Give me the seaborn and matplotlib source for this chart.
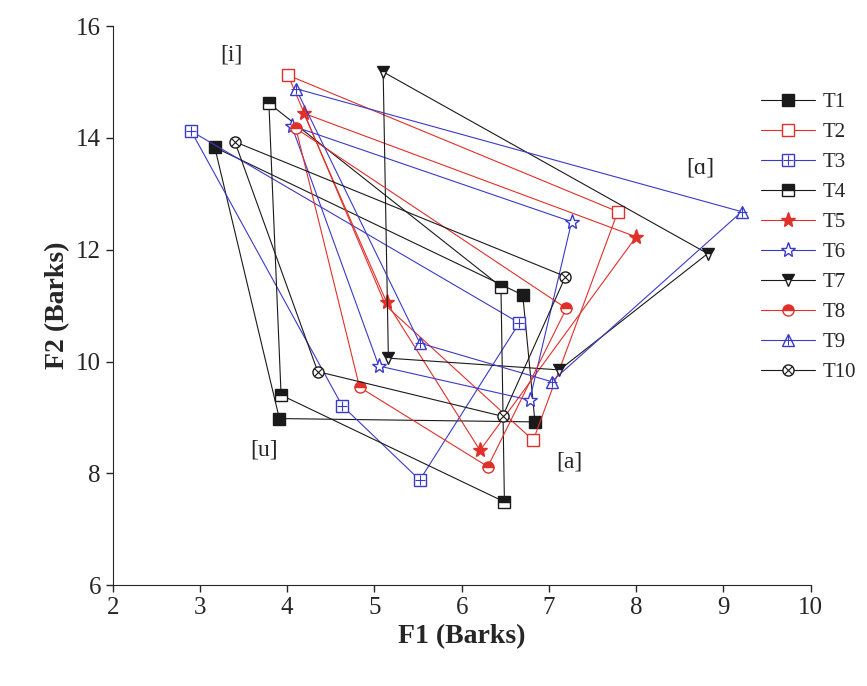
import numpy as np
import pandas as pd
import matplotlib
matplotlib.use("Agg")
import matplotlib.pyplot as plt
from matplotlib.lines import Line2D
from matplotlib.legend_handler import HandlerTuple
import seaborn as sns

sns.set_style("ticks")
plt.rcParams['font.family'] = ['Liberation Serif', 'DejaVu Serif']

# =========================
# DATA (F1 / F2 in Barks, per speaker T1..T10)
# =========================
speakers = ["T1", "T2", "T3", "T4", "T5", "T6", "T7", "T8", "T9", "T10"]

f1_i = [3.17, 4.01, 2.90, 3.79, 4.19, 4.05, 5.10, 4.10, 4.10, 3.40]
f2_i = [13.83, 15.12, 14.12, 14.62, 14.44, 14.22, 15.18, 14.17, 14.88, 13.93]

f1_u = [3.91, 5.13, 4.63, 3.93, 5.14, 5.05, 5.16, 4.83, 5.52, 4.35]
f2_u = [8.98, 11.00, 9.21, 9.40, 11.06, 9.92, 10.06, 9.54, 10.33, 9.82]

f1_a = [6.84, 6.82, 5.52, 6.49, 6.21, 6.78, 7.12, 6.30, 7.03, 6.47]
f2_a = [8.92, 8.59, 7.88, 7.49, 8.41, 9.31, 9.85, 8.12, 9.64, 9.02]

f1_ah = [6.70, 7.79, 6.66, 6.45, 8.00, 7.26, 8.82, 7.20, 9.21, 7.19]
f2_ah = [11.19, 12.68, 10.69, 11.34, 12.23, 12.50, 11.93, 10.95, 12.68, 11.52]

# =========================
# STYLES
# =========================
BLACK = "#1a1a1a"
RED = "#e0302a"
BLUE = "#3a3ac8"

styles = {
    "T1": dict(color=BLACK, marker="s", mfc=BLACK, fillstyle="full", over=None),
    "T2": dict(color=RED, marker="s", mfc="white", fillstyle="full", over=None),
    "T3": dict(color=BLUE, marker="s", mfc="white", fillstyle="full", over="+"),
    "T4": dict(color=BLACK, marker="s", mfc=BLACK, fillstyle="top", over=None),
    "T5": dict(color=RED, marker="*", mfc=RED, fillstyle="full", over=None),
    "T6": dict(color=BLUE, marker="*", mfc="white", fillstyle="full", over=None),
    "T7": dict(color=BLACK, marker="v", mfc=BLACK, fillstyle="top", over=None),
    "T8": dict(color=RED, marker="o", mfc=RED, fillstyle="top", over=None),
    "T9": dict(color=BLUE, marker="^", mfc="white", fillstyle="full", over="+"),
    "T10": dict(color=BLACK, marker="o", mfc="white", fillstyle="full", over="x"),
}
# T2's [u] marker sits hidden under T5 in the original figure
mark_idx = {"T2": [0, 2, 3]}

fig = plt.figure(figsize=(8.67, 6.86), dpi=100)
ax = fig.add_axes([0.130, 0.147, 0.805, 0.815])

handles = []
for k, name in enumerate(speakers):
    st = styles[name]
    # closed quadrilateral: i -> u -> a -> ɑ -> i
    df = pd.DataFrame({
        "F1": [f1_i[k], f1_u[k], f1_a[k], f1_ah[k], f1_i[k]],
        "F2": [f2_i[k], f2_u[k], f2_a[k], f2_ah[k], f2_i[k]],
    })
    ms = 11 if st["marker"] == "*" else 8
    sns.lineplot(data=df, x="F1", y="F2", sort=False, estimator=None, ax=ax,
                 color=st["color"], lw=0.8, marker=st["marker"], markersize=ms,
                 markerfacecolor=st["mfc"], markerfacecoloralt="white",
                 fillstyle=st["fillstyle"], markeredgecolor=st["color"],
                 markeredgewidth=1.0, markevery=mark_idx.get(name, [0, 1, 2, 3]),
                 zorder=2 + k * 0.1)
    line = Line2D([], [], color=st["color"], lw=0.8, marker=st["marker"], markersize=ms,
                  markerfacecolor=st["mfc"], markerfacecoloralt="white",
                  fillstyle=st["fillstyle"], markeredgecolor=st["color"], markeredgewidth=1.0)
    if st["over"] is not None:
        osz = 6 if st["over"] == "x" else 7
        ax.plot(df["F1"][:4], df["F2"][:4], ls="none", marker=st["over"], markersize=osz,
                color=st["color"], markeredgewidth=0.8, zorder=2 + k * 0.1 + 0.05)
        over = Line2D([], [], ls="none", marker=st["over"], markersize=osz,
                      color=st["color"], markeredgewidth=0.8)
        handles.append((line, over))
    else:
        handles.append(line)

# vowel labels
ax.text(3.36, 15.48, "[i]", fontsize=17, ha="center", va="center")
ax.text(3.74, 8.42, "[u]", fontsize=17, ha="center", va="center")
ax.text(7.24, 8.2, "[a]", fontsize=17, ha="center", va="center")
ax.text(8.73, 13.46, "[ɑ]", fontsize=17, ha="center", va="center")

ax.set_xlim(2, 10)
ax.set_ylim(6, 16)
ax.set_xticks(np.arange(2, 11, 1))
ax.set_yticks(np.arange(6, 17, 2))
ax.tick_params(labelsize=18, direction="out", length=5, width=1)
ax.set_xlabel("F1 (Barks)", fontsize=20, fontweight="bold")
ax.set_ylabel("F2 (Barks)", fontsize=20, fontweight="bold")
sns.despine(ax=ax)

fig.legend(handles, speakers, handler_map={tuple: HandlerTuple(ndivide=1)},
           loc="upper left", bbox_to_anchor=(0.868, 0.877), frameon=False,
           fontsize=15, handlelength=2.6, labelspacing=0.5, handletextpad=0.35,
           borderaxespad=0)

fig.savefig("out.png", dpi=100)
plt.close(fig)
